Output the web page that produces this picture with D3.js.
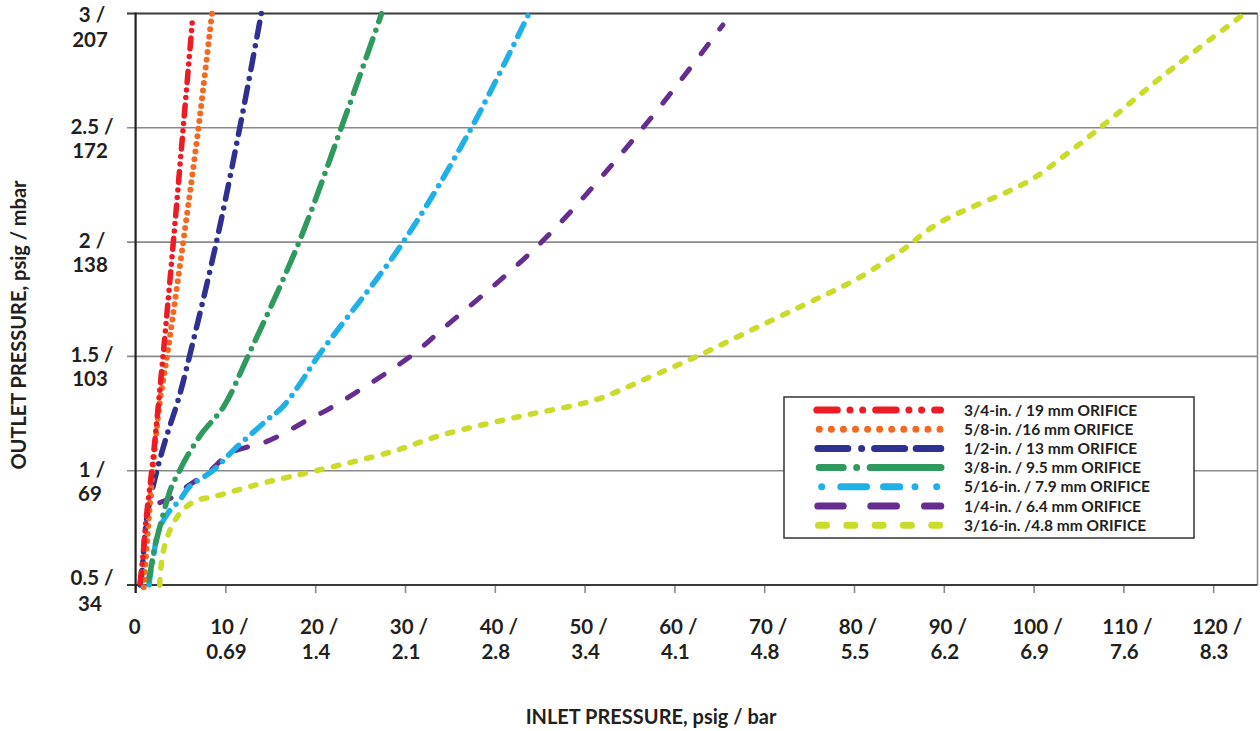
<!DOCTYPE html>
<html>
<head>
<meta charset="utf-8">
<script src="https://cdn.jsdelivr.net/npm/d3@7"></script>
<style>
  html, body { margin: 0; padding: 0; background: #fff; }
  svg { display: block; }
  text { font-family: Lato, "Open Sans", sans-serif; font-weight: 700; fill: #231f20; }
</style>
</head>
<body>
<svg id="chart" width="1260" height="731"></svg>
<script>
// ---------- DATA ----------
const seriesNames = [
  "3/4-in. / 19 mm ORIFICE",
  "5/8-in. /16 mm ORIFICE",
  "1/2-in. / 13 mm ORIFICE",
  "3/8-in. / 9.5 mm ORIFICE",
  "5/16-in. / 7.9 mm ORIFICE",
  "1/4-in. / 6.4 mm ORIFICE",
  "3/16-in. /4.8 mm ORIFICE"
];
// [inlet psig, outlet psig]
const orifice3_4 = [[0.5,0.51],[0.8,0.62],[1.2,0.8],[1.8,1.0],[3.05,1.5],[4.2,2.0],[5.3,2.5],[6.35,2.98]];
const orifice5_8 = [[0.9,0.49],[1.3,0.7],[1.9,1.0],[2.7,1.3],[3.5,1.5],[5.3,2.0],[7.0,2.5],[8.5,3.0]];
const orifice1_2 = [[0.5,0.5],[0.7,0.55],[0.95,0.68],[1.2,0.78],[1.6,0.87],[2.5,1.02],[3.6,1.17],[4.75,1.31],[6.0,1.5],[9.0,2.0],[11.6,2.5],[14.0,3.0]];
const orifice3_8 = [[1.4,0.52],[1.6,0.55],[2.05,0.65],[2.7,0.755],[3.5,0.87],[4.0,0.93],[4.9,1.0],[5.7,1.06],[7.4,1.165],[9.8,1.28],[12.5,1.5],[18.2,2.0],[22.9,2.5],[27.4,3.0]];
const orifice5_16 = [[1.5,0.5],[1.55,0.52],[1.97,0.62],[2.5,0.73],[3.6,0.815],[4.9,0.87],[6.0,0.93],[8.6,1.0],[10.9,1.09],[14.6,1.22],[16.4,1.28],[18.3,1.38],[20.3,1.5],[29.8,2.0],[37.4,2.5],[43.8,3.0]];
const orifice1_4 = [[2.7,0.86],[4.2,0.886],[5.7,0.93],[8.3,1.0],[10.5,1.076],[15.0,1.134],[19.8,1.236],[21.3,1.265],[30.6,1.5],[33.9,1.61],[45.2,2.0],[56.5,2.5],[65.4,2.95]];
const orifice3_16 = [[2.7,0.5],[2.7,0.52],[3.1,0.65],[4.0,0.755],[5.3,0.83],[6.8,0.87],[8.65,0.886],[11.3,0.915],[14.6,0.95],[20.1,1.0],[28.7,1.085],[34.0,1.155],[42.5,1.235],[51.2,1.31],[57.0,1.405],[62.5,1.5],[68.3,1.61],[74.4,1.725],[79.9,1.83],[85.2,1.96],[89.3,2.08],[99.6,2.27],[103.5,2.38],[107.4,2.5],[114.5,2.73],[123.5,3.0]];

const xTicks = [0,10,20,30,40,50,60,70,80,90,100,110,120];
const xTickBar = ["","0.69","1.4","2.1","2.8","3.4","4.1","4.8","5.5","6.2","6.9","7.6","8.3"];
const yTicks = [0.5,1,1.5,2,2.5,3];
const yTickMbar = ["34","69","103","138","172","207"];

// ---------- STYLES ----------
const colors = ["#ed1c24","#f26a22","#2e3192","#2f9a5e","#1fb0e8","#662d91","#cbdb2a"];
const chartDash = ["11 7.5 0 7.5 0 7.5","0 7.7","15 9 0 9","20 9 0 9","14 9 0 9","12 19","5.5 11.5"];
const chartWidth = [5.5,6,5.5,5.5,5.5,5,5.5];
const legendDash = ["20.5 12.7 0 12.7 0 13","0 12.07","30 13.8 0 13 30 11.6 30 100","24 13.5 0 13.5 72 100","0 19.1 25.7 17 16.3 15.2 0 21.7 0 100","25.4 27.6 25.7 28 16.3 100","8 20.3"];
const legendStart = [816.8,819.3,817.8,819.2,821.7,817.8,818.5];
const legendEnd = [940.5,940,940.8,941,937,940.8,940];
const seriesData = [orifice3_4, orifice5_8, orifice1_2, orifice3_8, orifice5_16, orifice1_4, orifice3_16];

// ---------- DRAW ----------
const svg = d3.select("#chart");
const x = d3.scaleLinear().domain([0,125]).range([135.6,1258.1]);
const y = d3.scaleLinear().domain([0.5,3]).range([585,13.5]);
const plotL = 135.6, plotR = 1257.5;

// gridlines
svg.append("g").selectAll("line").data(yTicks.filter(d => d !== 0.5 && d !== 3)).join("line")
  .attr("x1", 127).attr("x2", plotR)
  .attr("y1", d => y(d)).attr("y2", d => y(d))
  .attr("stroke", "#8a8a8a").attr("stroke-width", 1.6);

// right border
svg.append("line").attr("x1", plotR).attr("x2", plotR).attr("y1", y(3)).attr("y2", y(0.5))
  .attr("stroke", "#8a8a8a").attr("stroke-width", 1.5);

// x ticks via axis
const xAxis = d3.axisBottom(x).tickValues(xTicks).tickSize(8).tickSizeOuter(0).tickFormat("");
const gx = svg.append("g").attr("transform", `translate(0,${y(0.5)})`).call(xAxis);
gx.select(".domain").remove();
gx.selectAll(".tick line").attr("stroke", "#8a8a8a").attr("stroke-width", 1.6);

// top border & bottom axis & left axis
svg.append("line").attr("x1", 127).attr("x2", plotR).attr("y1", y(3)).attr("y2", y(3))
  .attr("stroke", "#3a3a3a").attr("stroke-width", 2.2);
svg.append("line").attr("x1", 127).attr("x2", plotR).attr("y1", y(0.5)).attr("y2", y(0.5))
  .attr("stroke", "#3a3a3a").attr("stroke-width", 2.2);
svg.append("line").attr("x1", plotL).attr("x2", plotL).attr("y1", y(3)-1).attr("y2", y(0.5)+8)
  .attr("stroke", "#231f20").attr("stroke-width", 2.2);

// x tick labels
const xl = svg.append("g").selectAll("text").data(xTicks).join("text")
  .attr("text-anchor", "middle").style("font-size", "20.5px");
xl.each(function(d, i) {
  const t = d3.select(this);
  const cx = x(d) + (d === 0 ? -1 : 1);
  if (d === 0) {
    t.append("tspan").attr("x", cx).attr("y", 634).text("0");
  } else {
    t.append("tspan").attr("x", cx + 3).attr("y", 634).text(d + " /");
    t.append("tspan").attr("x", cx).attr("y", 659).text(xTickBar[i]);
  }
});

// y tick labels
const yl = svg.append("g").selectAll("text").data(yTicks).join("text")
  .attr("text-anchor", "middle").style("font-size", "20.5px");
yl.each(function(d, i) {
  const t = d3.select(this);
  let off = 6, gap = 24;
  if (d === 3) { off = 8.5; gap = 25; }
  if (d === 0.5) { off = 0; gap = 26; }
  t.append("tspan").attr("x", 92).attr("y", y(d) + off).text(d + " /");
  t.append("tspan").attr("x", 90).attr("y", y(d) + off + gap).text(yTickMbar[i]);
});

// axis titles
svg.append("text").attr("x", 651).attr("y", 724).attr("text-anchor", "middle")
  .style("font-size", "20px").text("INLET PRESSURE, psig / bar");
svg.append("text").attr("transform", "translate(26,325) rotate(-90)").attr("text-anchor", "middle")
  .style("font-size", "20px").text("OUTLET PRESSURE, psig / mbar");

// series lines (draw in reverse so 3/4 on top)
const line = d3.line().x(d => x(d[0])).y(d => y(d[1])).curve(d3.curveCatmullRom.alpha(0.5));
const order = d3.range(seriesData.length).reverse();
svg.append("g").selectAll("path").data(order).join("path")
  .attr("d", i => line(seriesData[i]))
  .attr("fill", "none")
  .attr("stroke", i => colors[i])
  .attr("stroke-width", i => chartWidth[i])
  .attr("stroke-dasharray", i => chartDash[i])
  .attr("stroke-linecap", "round")
  .attr("stroke-linejoin", "round");

// legend
const lg = svg.append("g");
lg.append("rect").attr("x", 784).attr("y", 397).attr("width", 410).attr("height", 141)
  .attr("fill", "#fff").attr("stroke", "#333").attr("stroke-width", 1.5);
seriesNames.forEach((name, i) => {
  const ry = 410 + i * 19.2;
  lg.append("path")
    .attr("d", d3.line()([[legendStart[i], ry], [legendEnd[i], ry]]))
    .attr("fill", "none").attr("stroke", colors[i]).attr("stroke-width", 7)
    .attr("stroke-dasharray", legendDash[i]).attr("stroke-linecap", "round");
  lg.append("text").attr("x", 964).attr("y", ry + 5.5).style("font-size", "15.5px").text(name);
});
</script>
</body>
</html>
